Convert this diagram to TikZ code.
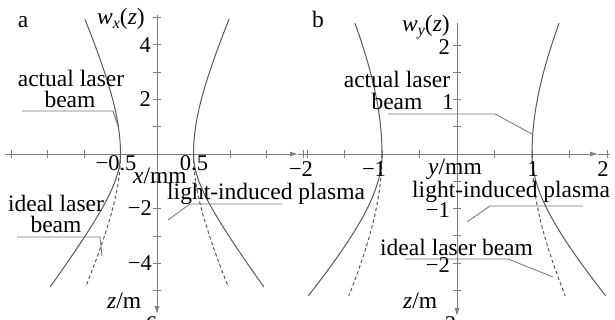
\documentclass[tikz,border=0pt]{standalone}
\usepackage{fontspec}
\setmainfont{Liberation Serif}
\usetikzlibrary{arrows.meta}
\begin{document}
\begin{tikzpicture}[x=1pt,y=-1pt,
  txt/.style={inner sep=0pt,font=\fontsize{23.5}{24}\selectfont},
  num/.style={inner sep=0pt,font=\fontsize{22.5}{24}\selectfont},
  axisline/.style={draw=black!50,line width=0.8pt},
  tickmark/.style={draw=black!50,line width=0.7pt},
  curve/.style={draw=black!65,line width=1pt},
  dcurve/.style={draw=black!65,line width=1pt,dash pattern=on 3.5pt off 2.5pt},
  leader/.style={draw=black!55,line width=0.8pt},
  tip/.style={-{Latex[length=8pt,width=5pt]}}]
\useasboundingbox (0,0) rectangle (615,320);
\newcommand{\sub}[1]{\raisebox{-0.35ex}{\fontsize{16}{16}\selectfont\itshape #1}}

% ===== panel a =====
\draw[axisline,tip] (5,154) -- (298,154);
\draw[axisline] (298,154) -- (305,154);
\draw[axisline,tip] (157,15) -- (157,314);
\foreach \k in {-4,...,4} \draw[tickmark] ({157+36.5*\k},150) -- ({157+36.5*\k},158);
\foreach \k in {-5,...,5} \draw[tickmark] (153,{154-27.3*\k}) -- (161,{154-27.3*\k});
\draw[curve,domain=0:4.95,samples=40,variable=\z] plot ({157-73*0.5*sqrt(1+(\z/2.9)^2)},{154-27.3*\z});
\draw[curve,domain=0:4.95,samples=40,variable=\z] plot ({157+73*0.5*sqrt(1+(\z/2.9)^2)},{154-27.3*\z});
\draw[curve,domain=0:4.87,samples=40,variable=\z] plot ({157-73*0.5*sqrt(1+(\z/1.77)^2)},{154+27.3*\z});
\draw[curve,domain=0:4.87,samples=40,variable=\z] plot ({157+73*0.5*sqrt(1+(\z/1.77)^2)},{154+27.3*\z});
\draw[dcurve,domain=0:4.87,samples=40,variable=\z] plot ({157-73*0.5*sqrt(1+(\z/2.9)^2)},{154+27.3*\z});
\draw[dcurve,domain=0:4.87,samples=40,variable=\z] plot ({157+73*0.5*sqrt(1+(\z/2.9)^2)},{154+27.3*\z});
\node[txt,anchor=base] (la) at (23,28) {a};
\node[txt,anchor=base west] (wx) at (97,25) {\textit{w}\sub{x}(\textit{z})};
\node[num,anchor=base east] (a4) at (151,53) {4};
\node[num,anchor=base east] (a2) at (151,107) {2};
\node[num,anchor=base east] (am2) at (152,215) {−2};
\node[num,anchor=base east] (am4) at (152,270) {−4};
\node[num,anchor=base west] (am6) at (133,331) {−6};
\node[num,anchor=base] (ax1) at (116,171) {−0.5};
\node[num,anchor=base] (ax2) at (194,171) {0.5};
\node[txt,anchor=base] (axl) at (160,184) {\textit{x}/mm};
\node[txt,anchor=base west] (azl) at (107,308) {\textit{z}/m};
\node[txt,anchor=base] (aal1) at (71,87) {actual laser};
\node[txt,anchor=base] (aal2) at (70,108) {beam};
\node[txt,anchor=base] (ail1) at (56,212) {ideal laser};
\node[txt,anchor=base] (ail2) at (56,233) {beam};
\node[txt,anchor=base west] (lip1) at (167,200) {light-induced plasma};
\coordinate (c1) at (118,126);
\coordinate (c2) at (102,256);
\coordinate (c3) at (168,220);
\draw[leader] (22,111) -- (113,111) -- (c1);
\draw[leader] (17,237) -- (100,237) -- (c2);
\draw[leader] (282,204) -- (190,204) -- (c3);

% ===== panel b =====
\draw[axisline,tip] (305,154) -- (598,154);
\draw[axisline] (598,154) -- (610,154);
\draw[axisline,tip] (457,23) -- (457,316);
\foreach \k in {-4,...,4} \draw[tickmark] ({457+37.5*\k},150) -- ({457+37.5*\k},158);
\foreach \k in {-5,...,4} \draw[tickmark] (453,{154-27.25*\k}) -- (461,{154-27.25*\k});
\draw[curve,domain=0:2.4,samples=40,variable=\z] plot ({457-75*sqrt(1+(\z/2.6)^2)},{154-54.5*\z});
\draw[curve,domain=0:2.4,samples=40,variable=\z] plot ({457+75*sqrt(1+(\z/2.6)^2)},{154-54.5*\z});
\draw[curve,domain=0:2.6,samples=40,variable=\z] plot ({457-75*sqrt(1+(\z/1.52)^2)},{154+54.5*\z});
\draw[curve,domain=0:2.6,samples=40,variable=\z] plot ({457+75*sqrt(1+(\z/1.52)^2)},{154+54.5*\z});
\draw[dcurve,domain=0:2.6,samples=40,variable=\z] plot ({457-75*sqrt(1+(\z/2.5)^2)},{154+54.5*\z});
\draw[dcurve,domain=0:2.6,samples=40,variable=\z] plot ({457+75*sqrt(1+(\z/2.5)^2)},{154+54.5*\z});
\node[txt,anchor=base] (lb) at (318,28) {b};
\node[txt,anchor=base west] (wy) at (402,32) {\textit{w}\sub{y}(\textit{z})};
\node[num,anchor=base east] (b2) at (450,55) {2};
\node[num,anchor=base] (b1) at (448,110) {1};
\node[num,anchor=base east] (bm1) at (450,218) {−1};
\node[num,anchor=base east] (bm2) at (450,272) {−2};
\node[num,anchor=base west] (bm3) at (432,331) {−3};
\node[num,anchor=base] (bx1) at (301,177) {−2};
\node[num,anchor=base] (bx2) at (374,177) {−1};
\node[num,anchor=base] (bx3) at (533,177) {1};
\node[num,anchor=base] (bx4) at (603,177) {2};
\node[txt,anchor=base] (byl) at (455,175) {\textit{y}/mm};
\node[txt,anchor=base west] (bzl) at (403,308) {\textit{z}/m};
\node[txt,anchor=base] (bal1) at (397,88) {actual laser};
\node[txt,anchor=base] (bal2) at (397,110) {beam};
\node[txt,anchor=base west] (lip2) at (412,198) {light-induced plasma};
\node[txt,anchor=base west] (bil) at (380,255) {ideal laser beam};
\coordinate (d1) at (532,134);
\coordinate (d2) at (467,222);
\coordinate (d3) at (553,277);
\draw[leader] (388,114) -- (495,114) -- (d1);
\draw[leader] (583,206) -- (490,206) -- (d2);
\draw[leader] (405,259) -- (508,259) -- (d3);
\end{tikzpicture}
\end{document}
